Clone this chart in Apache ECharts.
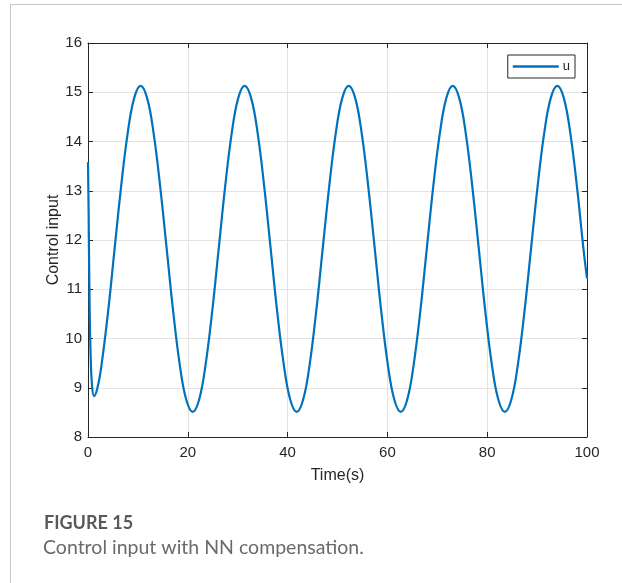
<!DOCTYPE html>
<html>
<head>
<meta charset="utf-8">
<script src="https://cdn.jsdelivr.net/npm/echarts@6/dist/echarts.min.js"></script>
<style>
  html, body { margin: 0; padding: 0; background: #fff; }
  #main { width: 622px; height: 583px; }
</style>
</head>
<body>
<div id="main"></div>
<script>
// values
const timeS = [
  0, 0.12, 0.28, 0.5, 0.8, 1.2, 1.9, 2.73,
  4.03, 5.33, 6.64, 7.94, 9.25, 10.55,
  11.85, 13.16, 14.46, 15.77, 17.07, 18.37, 19.68, 20.98,
  22.28, 23.58, 24.89, 26.19, 27.49, 28.79, 30.1, 31.4,
  32.7, 34.01, 35.31, 36.61, 37.91, 39.22, 40.52, 41.82,
  43.12, 44.43, 45.73, 47.03, 48.34, 49.64, 50.95, 52.25,
  53.55, 54.86, 56.16, 57.47, 58.77, 60.07, 61.38, 62.68,
  63.98, 65.28, 66.59, 67.89, 69.19, 70.5, 71.8, 73.1,
  74.4, 75.71, 77.01, 78.32, 79.62, 80.92, 82.23, 83.53,
  84.84, 86.16, 87.47, 88.78, 90.1, 91.41, 92.73, 94.05,
  95.36, 96.67, 97.98, 99.29, 100
];
const controlU = [
  13.58, 12.6, 11.0, 9.75, 9.05, 8.83, 9.0, 9.48,
  10.55, 11.82, 13.09, 14.16, 14.88, 15.13,
  14.88, 14.16, 13.09, 11.82, 10.55, 9.48, 8.76, 8.51,
  8.76, 9.48, 10.55, 11.82, 13.09, 14.16, 14.88, 15.13,
  14.88, 14.16, 13.09, 11.82, 10.55, 9.48, 8.76, 8.51,
  8.76, 9.48, 10.55, 11.82, 13.09, 14.16, 14.88, 15.13,
  14.88, 14.16, 13.09, 11.82, 10.55, 9.48, 8.76, 8.51,
  8.76, 9.48, 10.55, 11.82, 13.09, 14.16, 14.88, 15.13,
  14.88, 14.16, 13.09, 11.82, 10.55, 9.48, 8.76, 8.51,
  8.76, 9.48, 10.55, 11.82, 13.09, 14.16, 14.88, 15.13,
  14.88, 14.16, 13.09, 11.82, 11.22
];
const xTicks = [0, 20, 40, 60, 80, 100];
const yTicks = [8, 9, 10, 11, 12, 13, 14, 15, 16];

const axisColor = '#262626';
const font = '"Liberation Sans", Arial, sans-serif';
const captionFont = 'Lato, sans-serif';

const chart = echarts.init(document.getElementById('main'), null, { renderer: 'canvas' });

const commonX = {
  type: 'value',
  min: xTicks[0],
  max: xTicks[xTicks.length - 1],
  interval: 20,
  axisLine: { show: true, onZero: false, lineStyle: { color: axisColor, width: 1 } },
  axisTick: { show: true, inside: true, length: 5, lineStyle: { color: axisColor } }
};
const commonY = {
  type: 'value',
  min: yTicks[0],
  max: yTicks[yTicks.length - 1],
  interval: 1,
  axisLine: { show: true, onZero: false, lineStyle: { color: axisColor, width: 1 } },
  axisTick: { show: true, inside: true, length: 5, lineStyle: { color: axisColor } }
};

const option = {
  animation: false,
  backgroundColor: '#fff',
  grid: { left: 88, right: 35, top: 43, bottom: 146 },
  legend: {
    data: ['u'],
    right: 47,
    top: 55,
    orient: 'vertical',
    icon: 'rect',
    itemWidth: 46,
    itemHeight: 2.5,
    padding: [5, 5, 5, 5],
    borderColor: axisColor,
    borderWidth: 1,
    backgroundColor: '#fff',
    textStyle: { color: axisColor, fontSize: 13, fontFamily: font, padding: [0, 0, 0, -1] }
  },
  xAxis: [
    Object.assign({}, commonX, {
      position: 'bottom',
      name: 'Time(s)',
      nameLocation: 'middle',
      nameGap: 31,
      nameMoveOverlap: false,
      nameTextStyle: { color: axisColor, fontSize: 16, fontFamily: font },
      axisLabel: { color: axisColor, fontSize: 15, fontFamily: font, margin: 8 },
      splitLine: { show: true, lineStyle: { color: '#e3e3e3', width: 1 } }
    }),
    Object.assign({}, commonX, {
      position: 'top',
      axisLabel: { show: false },
      splitLine: { show: false }
    })
  ],
  yAxis: [
    Object.assign({}, commonY, {
      position: 'left',
      name: 'Control input',
      nameLocation: 'middle',
      nameGap: 26,
      nameMoveOverlap: false,
      nameRotate: 90,
      nameTextStyle: { color: axisColor, fontSize: 16, fontFamily: font },
      axisLabel: { color: axisColor, fontSize: 15, fontFamily: font, margin: 6 },
      splitLine: { show: true, lineStyle: { color: '#e3e3e3', width: 1 } }
    }),
    Object.assign({}, commonY, {
      position: 'right',
      axisLabel: { show: false },
      splitLine: { show: false }
    })
  ],
  series: [
    {
      name: 'u',
      type: 'line',
      xAxisIndex: 0,
      yAxisIndex: 0,
      data: timeS.map((t, i) => [t, controlU[i]]),
      smooth: 0.4,
      symbol: 'none',
      lineStyle: { color: '#0072BD', width: 2.2 },
      itemStyle: { color: '#0072BD' }
    }
  ],
  graphic: [
    {
      type: 'line',
      shape: { x1: 10, y1: 4.5, x2: 622, y2: 4.5 },
      style: { stroke: '#c4c4c4', lineWidth: 1 }
    },
    {
      type: 'line',
      shape: { x1: 10.5, y1: 4, x2: 10.5, y2: 583 },
      style: { stroke: '#c4c4c4', lineWidth: 1 }
    },
    {
      type: 'text',
      left: 44,
      top: 514,
      style: {
        text: 'FIGURE 15',
        fill: '#595959',
        fontSize: 18,
        fontWeight: 'bold',
        fontFamily: captionFont
      }
    },
    {
      type: 'text',
      left: 43,
      top: 538,
      style: {
        text: 'Control input with NN compensation.',
        fill: '#6a6a6a',
        fontSize: 19.5,
        fontFamily: captionFont
      }
    }
  ]
};

chart.setOption(option);
</script>
</body>
</html>
